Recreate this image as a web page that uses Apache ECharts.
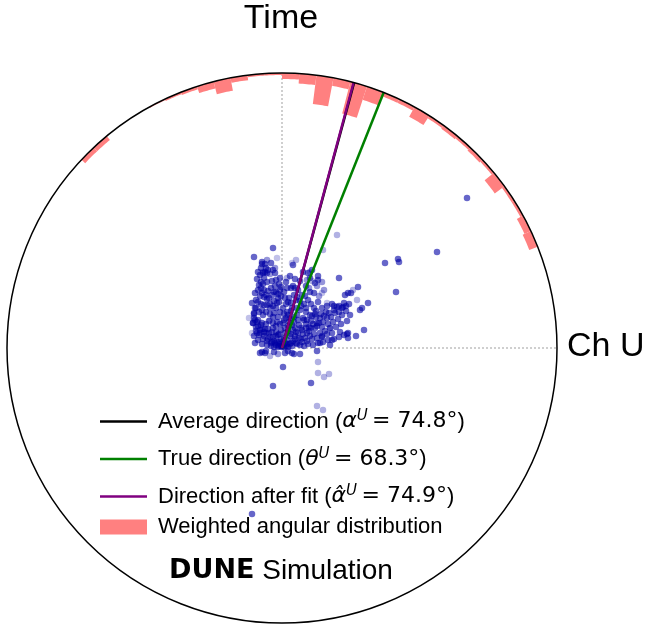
<!DOCTYPE html>
<html>
<head>
<meta charset="utf-8">
<script src="https://cdn.jsdelivr.net/npm/echarts@6/dist/echarts.min.js"></script>
<style>
  html, body { margin: 0; padding: 0; background: #fff; }
  #chart { width: 650px; height: 627px; }
</style>
</head>
<body>
<div id="chart"></div>
<script>
// Outer radius of the view (same units as the hit positions)
const R_MAX = 2.75;

// Reconstructed directions, angle measured from the Ch U axis (degrees)
const directionNames = ['Average direction', 'True direction', 'Direction after fit'];
const directionSymbols = ['α', 'θ', 'α̂'];
const directionAngles = [74.8, 68.3, 74.9];
const directionColors = ['#000000', '#008000', '#800080'];

// Weighted angular distribution: bin start angle (deg) and bar depth (radius units)
const histName = 'Weighted angular distribution';
const binWidth = 3.6;
const binStarts = [21.6, 25.2, 28.8, 32.4, 36.0, 39.6, 43.2, 46.8, 50.4, 54.0, 57.6, 61.2, 64.8,
  68.4, 72.0, 75.6, 79.2, 82.8, 86.4, 90.0, 93.6, 97.2, 100.8, 104.4, 108.0, 111.6, 115.2, 129.6, 133.2];
const binDepths = [0.09, 0.07, 0.03, 0.03, 0.12, 0.03, 0.04, 0.03, 0.04, 0.03, 0.11, 0.04, 0.04,
  0.14, 0.33, 0.08, 0.29, 0.10, 0.06, 0.02, 0.02, 0.05, 0.13, 0.07, 0.03, 0.02, 0.01, 0.05, 0.05];

// Hits away from the vertex: [Ch U, Time, weight]
const hitsOuter = [
  [1.85, 1.50, 1], [1.55, 0.96, 1], [1.03, 0.85, 1], [1.16, 0.89, 1], [1.17, 0.86, 1],
  [0.55, 1.13, 0.5], [0.41, 0.98, 0.5], [0.57, 0.70, 1], [0.76, 0.61, 1], [1.14, 0.56, 1],
  [0.86, 0.45, 1], [0.63, 0.53, 1], [0.66, 0.55, 1], [0.69, 0.55, 1], [0.55, 0.41, 1],
  [0.52, 0.42, 1], [0.78, 0.38, 1], [0.80, 0.40, 1], [0.75, 0.48, 0.5], [0.71, 0.58, 0.5],
  [0.60, 0.40, 1], [0.82, 0.18, 1], [0.74, 0.12, 1], [0.65, 0.14, 1], [0.66, 0.10, 1],
  [0.58, 0.16, 1], [0.50, 0.08, 1], [0.48, 0.03, 1], [0.40, 0.11, 1], [0.38, 0.05, 1],
  [-0.28, 0.91, 1], [-0.09, 1.00, 1], [-0.20, 0.84, 1], [-0.17, 0.76, 1], [-0.19, 0.75, 1],
  [-0.15, 0.75, 1], [-0.07, 0.75, 1], [0.11, 0.83, 1], [0.14, 0.88, 0.5], [0.13, 0.69, 1],
  [0.05, 0.70, 0.5], [0.28, 0.76, 0.5], [0.26, 0.75, 1], [0.36, 0.68, 1], [0.30, 0.67, 0.5],
  [0.01, -0.19, 1], [-0.09, -0.38, 1], [0.12, -0.06, 1], [0.18, -0.06, 1], [0.36, -0.14, 0.5],
  [0.35, -0.03, 1], [0.29, -0.35, 1], [0.42, -0.29, 0.5], [0.47, -0.26, 0.5], [0.35, -0.58, 0.5],
  [0.41, -0.62, 0.5], [-0.30, -1.66, 1], [-0.20, -0.04, 1], [-0.22, -0.05, 1], [-0.25, 0.15, 1],
  [-0.17, -0.05, 1], [0.10, -0.05, 1], [-0.12, -0.08, 0.5], [0.36, -0.25, 0.5],
  [-0.28, 0.35, 1], [-0.29, 0.25, 1], [-0.30, 0.15, 0.4], [-0.33, 0.30, 0.4], [0.10, 0.85, 0.4],
  [-0.05, 0.90, 0.4], [0.40, 0.55, 0.4], [0.45, 0.45, 0.4], [0.48, 0.20, 0.4], [-0.12, 0.28, 0.4]
];

// Hits along the two arms of the vertex
const hitsArms = [
  [0.00, 0.01, 1], [0.01, 0.03, 1], [0.02, 0.01, 1], [-0.01, 0.02, 1], [0.03, 0.05, 1],
  [-0.02, 0.04, 1], [0.01, 0.06, 1], [0.04, 0.02, 1], [0.06, 0.01, 1], [-0.04, 0.01, 1],
  [-0.03, 0.02, 1], [-0.05, 0.06, 1], [-0.08, 0.07, 1], [-0.09, 0.11, 1], [-0.12, 0.11, 1],
  [-0.13, 0.15, 1], [-0.16, 0.15, 1], [-0.17, 0.19, 1], [-0.20, 0.19, 1], [-0.21, 0.23, 1],
  [-0.24, 0.22, 1], [-0.25, 0.26, 1], [-0.27, 0.28, 1], [-0.06, 0.03, 1], [-0.10, 0.06, 1],
  [-0.14, 0.09, 1], [-0.18, 0.12, 1], [-0.22, 0.15, 1], [-0.26, 0.17, 1],
  [-0.01, 0.09, 1], [-0.04, 0.13, 1], [-0.06, 0.16, 1], [-0.06, 0.22, 1], [-0.09, 0.25, 1],
  [-0.09, 0.31, 1], [-0.12, 0.34, 1], [-0.12, 0.40, 1], [-0.15, 0.43, 1], [-0.15, 0.49, 1],
  [-0.18, 0.51, 1], [-0.18, 0.58, 1], [-0.21, 0.60, 1], [-0.21, 0.66, 1], [-0.25, 0.69, 1],
  [-0.12, 0.44, 1], [-0.08, 0.47, 1], [-0.04, 0.50, 1], [-0.10, 0.53, 1], [-0.06, 0.56, 1],
  [-0.02, 0.58, 1], [-0.11, 0.60, 1], [-0.07, 0.62, 1], [-0.03, 0.64, 1], [-0.14, 0.57, 1],
  [-0.05, 0.45, 1], [-0.01, 0.52, 1],
  [-0.28, 0.34, 1], [-0.29, 0.25, 1], [-0.26, 0.40, 1], [-0.24, 0.46, 1], [-0.22, 0.52, 1],
  [-0.27, 0.55, 1], [-0.20, 0.38, 1], [-0.30, 0.45, 1],
  [-0.21, 0.80, 1], [-0.17, 0.84, 1], [-0.14, 0.78, 1], [-0.18, 0.70, 1], [-0.24, 0.76, 1],
  [0.05, 0.04, 1], [0.09, 0.05, 1], [0.13, 0.09, 1], [0.17, 0.10, 1], [0.21, 0.14, 1],
  [0.25, 0.15, 1], [0.29, 0.20, 1], [0.33, 0.20, 1], [0.37, 0.25, 1], [0.41, 0.26, 1],
  [0.45, 0.30, 1], [0.49, 0.31, 1], [0.53, 0.35, 1], [0.57, 0.36, 1], [0.61, 0.41, 1],
  [0.64, 0.42, 1],
  [0.10, 0.02, 1], [0.15, 0.04, 1], [0.20, 0.06, 1], [0.25, 0.07, 1], [0.30, 0.09, 1],
  [0.35, 0.10, 1], [0.40, 0.12, 1], [0.45, 0.14, 1], [0.50, 0.15, 1],
  [0.08, 0.12, 1], [0.14, 0.16, 1], [0.19, 0.20, 1], [0.24, 0.24, 1], [0.29, 0.27, 1],
  [0.34, 0.31, 1], [0.39, 0.34, 1], [0.44, 0.36, 1],
  [0.03, 0.15, 1], [0.06, 0.22, 1], [0.02, 0.28, 1], [0.08, 0.30, 1], [0.12, 0.26, 1],
  [0.15, 0.33, 1], [0.05, 0.36, 1], [0.10, 0.40, 1], [0.18, 0.38, 1], [0.22, 0.44, 1],
  [0.14, 0.48, 1], [0.07, 0.50, 1], [0.20, 0.53, 1], [0.26, 0.48, 1], [0.28, 0.56, 1],
  [0.16, 0.58, 1], [0.09, 0.60, 1], [0.32, 0.40, 1], [0.36, 0.46, 1], [0.24, 0.36, 1],
  [0.30, 0.32, 1], [0.04, 0.44, 1], [0.01, 0.40, 1], [0.11, 0.18, 1], [0.17, 0.23, 1],
  [0.22, 0.28, 1], [0.27, 0.21, 1], [0.35, 0.25, 1],
  [0.04, 0.66, 1], [0.08, 0.72, 1], [0.13, 0.60, 1], [0.18, 0.67, 1], [0.24, 0.62, 1],
  [0.28, 0.70, 1], [0.33, 0.65, 1], [0.21, 0.76, 1], [0.30, 0.78, 1], [0.36, 0.72, 1]
];

// Dense hits filling the region around the vertex
const hitsCore = [
  [-0.27, 0.05, 1], [-0.24, 0.08, 1], [-0.20, 0.04, 1], [-0.15, 0.03, 1], [-0.11, 0.02, 1],
  [-0.08, 0.01, 1], [-0.28, 0.12, 1], [-0.23, 0.13, 1], [-0.19, 0.09, 1], [-0.15, 0.07, 1],
  [-0.11, 0.05, 1], [-0.07, 0.05, 1], [-0.03, 0.06, 1],
  [-0.26, 0.21, 1], [-0.22, 0.18, 1], [-0.18, 0.16, 1], [-0.14, 0.19, 1], [-0.10, 0.16, 1],
  [-0.06, 0.12, 1], [-0.03, 0.14, 1], [-0.01, 0.18, 1],
  [-0.28, 0.30, 1], [-0.24, 0.28, 1], [-0.20, 0.25, 1], [-0.16, 0.24, 1], [-0.13, 0.27, 1],
  [-0.09, 0.20, 1], [-0.05, 0.26, 1], [-0.02, 0.24, 1],
  [-0.27, 0.40, 1], [-0.23, 0.36, 1], [-0.19, 0.33, 1], [-0.16, 0.36, 1], [-0.08, 0.35, 1],
  [-0.04, 0.31, 1], [-0.02, 0.36, 1],
  [-0.26, 0.48, 1], [-0.21, 0.44, 1], [-0.18, 0.43, 1], [-0.09, 0.42, 1], [-0.06, 0.40, 1],
  [-0.03, 0.46, 1],
  [-0.24, 0.58, 1], [-0.20, 0.55, 1], [-0.16, 0.53, 1], [-0.13, 0.50, 1], [-0.08, 0.56, 1],
  [-0.04, 0.54, 1], [-0.01, 0.61, 1],
  [-0.23, 0.63, 1], [-0.19, 0.64, 1], [-0.15, 0.66, 1], [-0.10, 0.67, 1], [-0.06, 0.68, 1],
  [-0.02, 0.70, 1],
  [-0.22, 0.73, 1], [-0.19, 0.76, 0.7], [-0.16, 0.80, 1], [-0.12, 0.74, 0.7], [-0.09, 0.78, 1],
  [-0.20, 0.86, 1], [-0.15, 0.88, 0.7], [-0.11, 0.85, 1], [-0.07, 0.80, 0.7],
  [0.02, 0.10, 1], [0.05, 0.08, 1], [0.08, 0.04, 1], [0.11, 0.07, 1], [0.14, 0.05, 1],
  [0.03, 0.20, 1], [0.06, 0.17, 1], [0.09, 0.14, 1], [0.13, 0.12, 1], [0.16, 0.15, 1],
  [0.01, 0.25, 1], [0.04, 0.30, 1], [0.07, 0.26, 1], [0.10, 0.23, 1], [0.13, 0.20, 1],
  [0.16, 0.28, 1], [0.02, 0.34, 1], [0.06, 0.33, 1], [0.09, 0.37, 1], [0.12, 0.31, 1],
  [0.15, 0.40, 1], [0.03, 0.50, 1], [0.06, 0.46, 1], [0.09, 0.45, 1], [0.12, 0.53, 1],
  [0.15, 0.51, 1], [0.02, 0.56, 1], [0.05, 0.60, 1], [0.11, 0.62, 1],
  [0.18, 0.03, 1], [0.22, 0.02, 1], [0.26, 0.04, 1], [0.31, 0.03, 1], [0.36, 0.05, 1],
  [0.41, 0.06, 1], [0.46, 0.08, 1], [0.52, 0.09, 1], [0.57, 0.11, 1], [0.62, 0.13, 1],
  [0.66, 0.15, 1],
  [0.19, 0.09, 1], [0.23, 0.10, 1], [0.28, 0.12, 1], [0.32, 0.14, 1], [0.38, 0.15, 1],
  [0.43, 0.17, 1], [0.48, 0.20, 1], [0.54, 0.21, 1], [0.59, 0.24, 1], [0.65, 0.27, 1],
  [0.68, 0.33, 1],
  [0.20, 0.18, 1], [0.24, 0.20, 1], [0.27, 0.17, 1], [0.31, 0.24, 1], [0.35, 0.22, 1],
  [0.40, 0.21, 1], [0.46, 0.24, 1], [0.51, 0.26, 1], [0.56, 0.29, 1], [0.60, 0.33, 1],
  [0.64, 0.37, 1], [0.67, 0.44, 1],
  [0.21, 0.30, 1], [0.25, 0.28, 1], [0.28, 0.33, 1], [0.33, 0.34, 1], [0.38, 0.30, 1],
  [0.42, 0.32, 1], [0.47, 0.35, 1], [0.52, 0.38, 1], [0.57, 0.42, 1], [0.62, 0.45, 1],
  [0.19, 0.42, 1], [0.24, 0.40, 1], [0.29, 0.44, 1], [0.34, 0.37, 1], [0.40, 0.40, 1],
  [0.45, 0.42, 1], [0.50, 0.44, 1],
  [0.18, 0.47, 1], [0.23, 0.52, 1], [0.27, 0.60, 0.7], [0.32, 0.55, 1], [0.37, 0.52, 0.7],
  [0.42, 0.58, 0.7], [0.25, 0.68, 0.7], [0.35, 0.62, 0.7], [0.40, 0.66, 0.7],
  [-0.16, -0.03, 1], [-0.08, -0.04, 1], [0.03, -0.05, 1], [0.06, -0.03, 1], [-0.04, -0.06, 0.7]
];

const chart = echarts.init(document.getElementById('chart'), null, { renderer: 'canvas' });

const toPolar = ([x, y, w]) => {
  const r = Math.hypot(x, y);
  const a = (Math.atan2(y, x) * 180 / Math.PI + 360) % 360;
  return [r, a, w];
};

const hiddenAxisParts = {
  axisTick: { show: false },
  axisLabel: { show: false },
  splitLine: { show: false },
  splitArea: { show: false }
};

const guideSeries = [0, 90].map(a => ({
  type: 'line',
  coordinateSystem: 'polar',
  silent: true,
  symbol: 'none',
  data: [[0, a], [R_MAX, a]],
  lineStyle: { color: '#a0a0a0', width: 1, type: [2, 2] },
  z: 1
}));

const directionSeries = directionNames.map((name, i) => ({
  name,
  type: 'line',
  coordinateSystem: 'polar',
  symbol: 'none',
  silent: true,
  data: [[0, directionAngles[i]], [R_MAX, directionAngles[i]]],
  lineStyle: { color: directionColors[i], width: 2.5 },
  itemStyle: { color: directionColors[i] },
  z: 5
}));

const histSeries = {
  name: histName,
  type: 'custom',
  coordinateSystem: 'polar',
  silent: true,
  data: binStarts.map((a, i) => [a, binDepths[i]]),
  itemStyle: { color: '#ff8080' },
  renderItem(params, api) {
    const a0 = api.value(0);
    const depth = api.value(1);
    const a1 = a0 + binWidth;
    const steps = 8;
    const pts = [];
    for (let j = 0; j <= steps; j++) pts.push(api.coord([R_MAX, a0 + (a1 - a0) * j / steps]));
    for (let j = steps; j >= 0; j--) pts.push(api.coord([R_MAX - depth, a0 + (a1 - a0) * j / steps]));
    return { type: 'polygon', shape: { points: pts }, style: { fill: api.visual('color') } };
  },
  z: 2
};

const hitSeries = {
  type: 'scatter',
  coordinateSystem: 'polar',
  silent: true,
  symbolSize: 6.5,
  data: hitsOuter.concat(hitsArms, hitsCore).map(toPolar),
  itemStyle: { color: p => 'rgba(0,0,165,' + (0.75 * p.data[2]).toFixed(2) + ')' },
  z: 3
};

const textFont = '"Liberation Sans", Arial, Helvetica, sans-serif';
const mathFont = '"DejaVu Sans", sans-serif';
const lineIcon = 'path://M0,0H47V2.6H0Z';

chart.setOption({
  animation: false,
  backgroundColor: '#fff',
  polar: { center: [282, 348], radius: 275 },
  angleAxis: Object.assign({
    type: 'value', min: 0, max: 360, startAngle: 0, clockwise: false,
    axisLine: { show: true, lineStyle: { color: '#000', width: 1.5 } },
    z: 10
  }, hiddenAxisParts),
  radiusAxis: Object.assign({
    type: 'value', min: 0, max: R_MAX,
    axisLine: { show: false }
  }, hiddenAxisParts),
  legend: {
    data: directionNames.map(n => ({ name: n, icon: lineIcon })).concat([{ name: histName, icon: 'rect' }]),
    orient: 'vertical',
    left: 95,
    top: 398.5,
    itemWidth: 47,
    itemHeight: 15,
    itemGap: 1.5,
    selectedMode: false,
    formatter: name => {
      const i = directionNames.indexOf(name);
      if (i < 0) return name;
      return name + ' ({m|' + directionSymbols[i] + '}{s|U}{d|\u2009= ' + directionAngles[i].toFixed(1) + '°})';
    },
    textStyle: {
      fontFamily: textFont, fontSize: 22, color: '#000', lineHeight: 15,
      padding: [0, 0, 0, 6],
      rich: {
        m: { fontFamily: mathFont, fontStyle: 'italic', fontSize: 22, lineHeight: 36, color: '#000' },
        s: { fontFamily: mathFont, fontStyle: 'italic', fontSize: 15, lineHeight: 15, verticalAlign: 'middle', padding: [0, 0, 10, 0], color: '#000' },
        d: { fontFamily: mathFont, fontSize: 22, lineHeight: 36, color: '#000' }
      }
    }
  },
  graphic: [
    { type: 'text', x: 281, y: 19, style: { text: 'Time', fontSize: 34, fontFamily: textFont, fill: '#000', align: 'center', verticalAlign: 'middle' } },
    { type: 'text', x: 567, y: 347, style: { text: 'Ch U', fontSize: 34, fontFamily: textFont, fill: '#000', align: 'left', verticalAlign: 'middle' } },
    { type: 'text', x: 281, y: 571, style: {
        text: '{b|DUNE} Simulation', fontSize: 28, fontFamily: textFont, fill: '#000', align: 'center', verticalAlign: 'middle',
        rich: { b: { fontSize: 27, fontWeight: 'bold', fontFamily: mathFont, fill: '#000' } }
    } }
  ],
  series: guideSeries.concat([histSeries, hitSeries], directionSeries)
});
</script>
</body>
</html>
